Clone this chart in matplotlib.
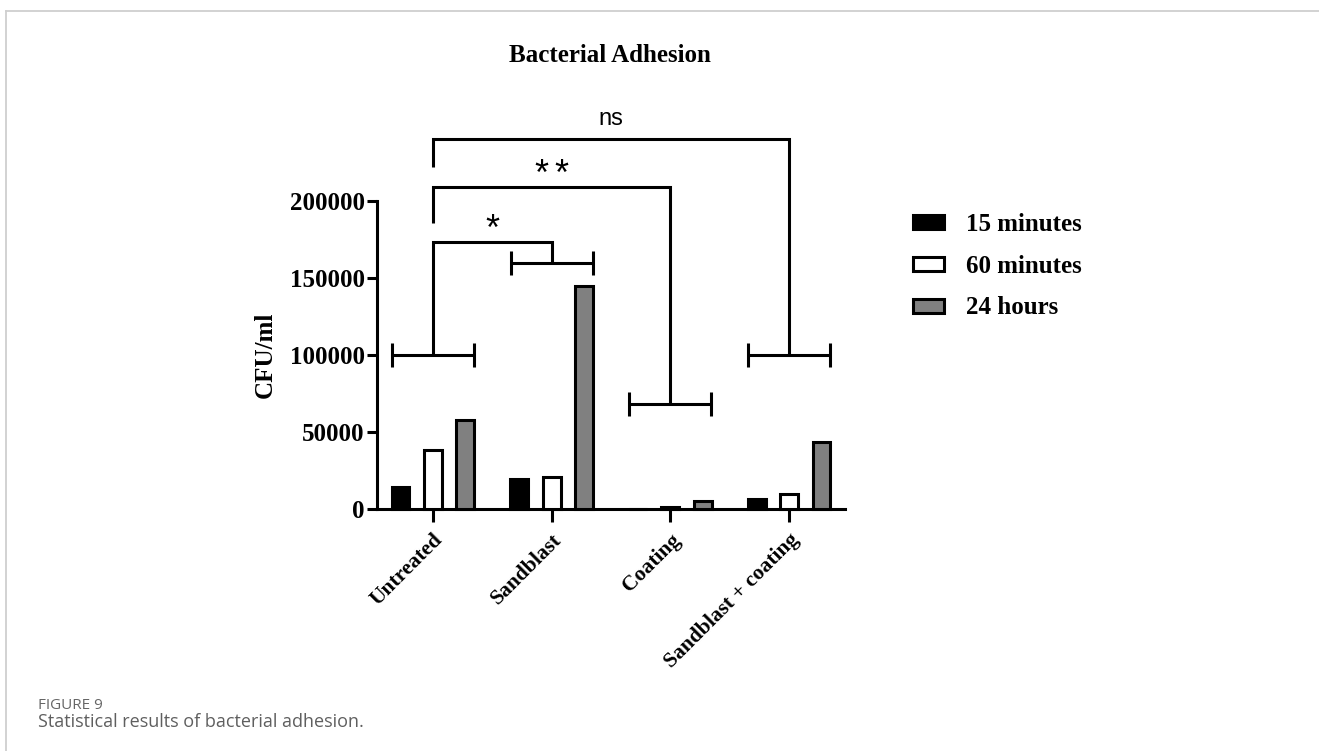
import matplotlib
matplotlib.use("Agg")
import matplotlib.pyplot as plt
from matplotlib.patches import Patch
from matplotlib.lines import Line2D
import numpy as np

# ---- data ----
groups = ["Untreated", "Sandblast", "Coating", "Sandblast + coating"]
series_names = ["15 minutes", "60 minutes", "24 hours"]
cfu_15min = [14500, 19200, 300, 6200]
cfu_60min = [38000, 20500, 1600, 10000]
cfu_24h = [57500, 145000, 4900, 43800]
series_colors = ["#000000", "#ffffff", "#808080"]

# significance brackets: (group a, group b, level of group-b H-bar,
#                         connector top, left-stub start, label)
comparisons = [
    (0, 1, 159700, 173400, 100000, "*"),
    (0, 2, 68200, 209100, 185700, "**"),
    (0, 3, 100000, 240300, 222100, "ns"),
]
hbar_levels = [100000, 159700, 68200, 100000]

W, H = 1319, 751
fig = plt.figure(figsize=(W / 100, H / 100), dpi=100)
fig.patch.set_facecolor("white")

serif = ["Liberation Serif", "DejaVu Serif"]
sans = ["Liberation Sans", "DejaVu Sans"]
LW = 2.2

ax = fig.add_axes([377 / W, 1 - 509 / H, (845 - 377) / W, (509 - 201) / H])
x = np.arange(len(groups))
bw = 0.15
off = 0.272
for i, (vals, col) in enumerate(zip([cfu_15min, cfu_60min, cfu_24h], series_colors)):
    ax.bar(x + (i - 1) * off, vals, width=bw, color=col, edgecolor="black",
           linewidth=LW, zorder=3, clip_on=False)

ax.set_xlim(-0.47, 3.47)
ax.set_ylim(0, 200000)
ax.set_yticks([0, 50000, 100000, 150000, 200000])
ax.set_yticklabels(["0", "50000", "100000", "150000", "200000"])
ax.set_xticks(x)
ax.set_xticklabels(groups, rotation=45, ha="right", rotation_mode="anchor")
for lab in ax.get_yticklabels():
    lab.set_fontfamily(serif)
    lab.set_fontweight("bold")
    lab.set_fontsize(18)
for lab in ax.get_xticklabels():
    lab.set_fontfamily(serif)
    lab.set_fontweight("bold")
    lab.set_fontsize(15.5)
ax.tick_params(axis="y", length=7, width=LW, pad=2)
ax.tick_params(axis="x", length=9, width=LW, pad=6)
for s in ["top", "right"]:
    ax.spines[s].set_visible(False)
for s in ["left", "bottom"]:
    ax.spines[s].set_linewidth(LW)
ax.set_ylabel("CFU/ml", fontfamily=serif, fontweight="bold", fontsize=18, labelpad=9)

# H-shaped bars over each group
half = 0.345
cap = 8000
for gx, lvl in zip(x, hbar_levels):
    ax.plot([gx - half, gx + half], [lvl, lvl], color="black", lw=LW, clip_on=False,
            solid_capstyle="butt")
    for ex in (gx - half, gx + half):
        ax.plot([ex, ex], [lvl - cap, lvl + cap], color="black", lw=LW, clip_on=False,
                solid_capstyle="butt")

# connectors between groups with their significance labels
for a, b, lb, top, start, label in comparisons:
    ax.plot([a, a, b, b], [start, top, top, lb], color="black", lw=LW, clip_on=False,
            solid_joinstyle="miter", solid_capstyle="butt")
    mid = (a + b) / 2
    if label == "ns":
        ax.text(mid, top + 5750, label, ha="center", va="bottom", fontsize=17,
                fontfamily=sans)
    else:
        n = len(label)
        for k in range(n):
            dx = (k - (n - 1) / 2) * 14.5
            ax.annotate("*", xy=(mid, top), xycoords="data",
                        xytext=(dx, 1.5), textcoords="offset points",
                        ha="center", va="baseline", fontsize=26, fontfamily=sans,
                        annotation_clip=False)

# legend
handles = [Patch(facecolor=c, edgecolor="black", linewidth=LW) for c in series_colors]
leg = fig.legend(handles, series_names, loc="upper left",
                 bbox_to_anchor=(913 / W, 1 - 213 / H), frameon=False,
                 prop={"family": serif, "weight": "bold", "size": 18},
                 handlelength=1.25, handleheight=0.5, handletextpad=0.85,
                 labelspacing=0.75, borderpad=0, borderaxespad=0)

fig.text(610 / W, 1 - 55 / H, "Bacterial Adhesion", ha="center", va="center",
         fontfamily=serif, fontweight="bold", fontsize=18)

# caption
fig.text(38 / W, 1 - 709 / H, "FIGURE 9", ha="left", va="baseline",
         fontfamily=["Open Sans", "DejaVu Sans"], fontsize=11, color="#666666")
fig.text(38 / W, 1 - 727 / H, "Statistical results of bacterial adhesion.", ha="left",
         va="baseline", fontfamily=["Open Sans", "DejaVu Sans"], fontsize=13,
         color="#5f5f5f")

# page frame
fig.add_artist(Line2D([6 / W, 1], [1 - 11 / H, 1 - 11 / H], color="#cfcfcf", lw=1.3))
fig.add_artist(Line2D([6 / W, 6 / W], [0, 1 - 11 / H], color="#cfcfcf", lw=1.3))

fig.savefig("out.png", dpi=100, facecolor="white")
